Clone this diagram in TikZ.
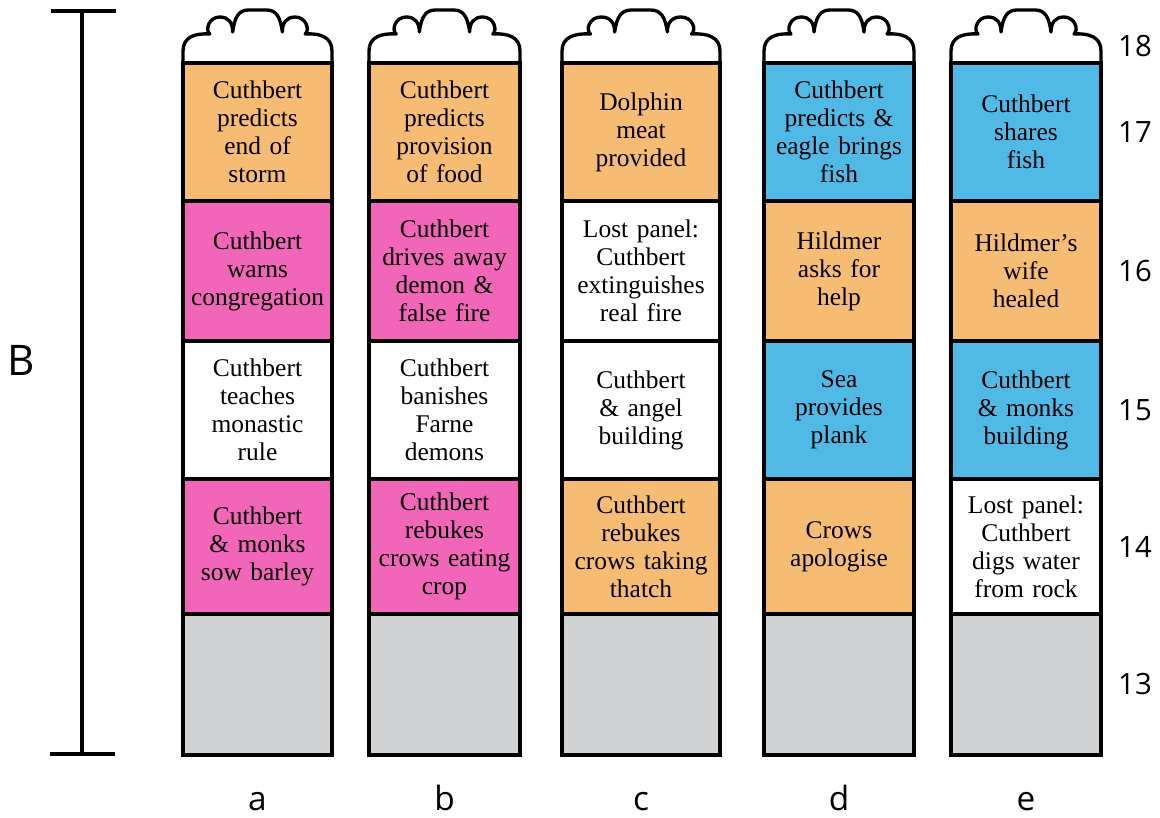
\documentclass[tikz,border=0pt]{standalone}
\usepackage{fontspec}
\setmainfont{Liberation Serif}
\newfontfamily\labelfont{Open Sans}
\usetikzlibrary{positioning}
\definecolor{orng}{RGB}{247,188,115}
\definecolor{pinkp}{RGB}{242,102,185}
\definecolor{sky}{RGB}{80,185,230}
\definecolor{stone}{RGB}{209,211,212}
\newcommand{\panelfont}{\fontsize{14.5}{15.9}\selectfont}

\begin{document}
\begin{tikzpicture}[x=0.02cm,y=-0.02cm,
 panel/.style={draw,line width=1.9pt,inner sep=0pt,align=center,font=\panelfont},
 crown/.style={draw,line width=1.9pt,fill=white,line join=round},
 bar/.style={line width=1.9pt},
 num/.style={font=\labelfont\fontsize{16.7}{20}\selectfont,inner sep=0pt},
 lbl/.style={font=\labelfont\fontsize{19}{22}\selectfont,inner sep=0pt,anchor=base},
 cola/.style={text width=2.98cm},colb/.style={text width=3.02cm},colc/.style={text width=3.16cm},
 cold/.style={text width=3.0cm},cole/.style={text width=3.0cm},
 reg17/.style={minimum height=2.76cm},reg16/.style={minimum height=2.8cm},
 reg15/.style={minimum height=2.76cm},reg14/.style={minimum height=2.7cm},
 reg13/.style={minimum height=2.82cm}]
\useasboundingbox (0,0) rectangle (1160,818);
% crowns on top of the columns
\foreach \l/\w in {183/149,369/151,562/158,764/150,951/150}{
 \begin{scope}[shift={(\l,63)},xscale=\w/150]
 \draw[crown] (0,0) -- (0,-12) .. controls (0,-26) and (12,-30) .. (27,-29)
  .. controls (22,-33) and (26,-46) .. (37,-46) .. controls (46,-46) and (50,-40) .. (50,-31)
  .. controls (52,-46) and (56,-53) .. (66,-53) -- (84,-53) .. controls (94,-53) and (98,-46) .. (100,-31)
  .. controls (100,-40) and (104,-46) .. (113,-46) .. controls (124,-46) and (128,-33) .. (123,-29)
  .. controls (138,-30) and (150,-26) .. (150,-12) -- (150,0);
 \end{scope}}
% grey base panels and column letters
\foreach \c/\xc/\cs in {a/257.5/cola,b/444.5/colb,c/641/colc,d/839/cold,e/1026/cole}{
 \node[panel,\cs,reg13,fill=stone] (\c5) at (\xc,684.5) {};
 \node[lbl] (l\c) at (\xc,810) {\c};}
% column a
\node[panel,cola,reg17,fill=orng] (a1) at (257.5,132) {Cuthbert\\predicts\\end of\\storm};
\node[panel,cola,reg16,fill=pinkp] (a2) at (257.5,271) {Cuthbert\\warns\\congregation};
\node[panel,cola,reg15,fill=white] (a3) at (257.5,410) {Cuthbert\\teaches\\monastic\\rule};
\node[panel,cola,reg14,fill=pinkp] (a4) at (257.5,546.5) {Cuthbert\\\& monks\\sow barley};
% column b
\node[panel,colb,reg17,fill=orng] (b1) at (444.5,132) {Cuthbert\\predicts\\provision\\of food};
\node[panel,colb,reg16,fill=pinkp] (b2) at (444.5,271) {Cuthbert\\drives away\\demon \&\\false fire};
\node[panel,colb,reg15,fill=white] (b3) at (444.5,410) {Cuthbert\\banishes\\Farne\\demons};
\node[panel,colb,reg14,fill=pinkp] (b4) at (444.5,546.5) {Cuthbert\\rebukes\\crows eating\\crop};
% column c
\node[panel,colc,reg17,fill=orng] (c1) at (641,132) {Dolphin\\meat\\provided};
\node[panel,colc,reg16,fill=white] (c2) at (641,271) {Lost panel:\\Cuthbert\\extinguishes\\real fire};
\node[panel,colc,reg15,fill=white] (c3) at (641,410) {Cuthbert\\\& angel\\building};
\node[panel,colc,reg14,fill=orng] (c4) at (641,546.5) {Cuthbert\\rebukes\\crows taking\\thatch};
% column d
\node[panel,cold,reg17,fill=sky] (d1) at (839,132) {Cuthbert\\predicts \&\\eagle brings\\fish};
\node[panel,cold,reg16,fill=orng] (d2) at (839,271) {Hildmer\\asks for\\help};
\node[panel,cold,reg15,fill=sky] (d3) at (839,410) {Sea\\provides\\plank};
\node[panel,cold,reg14,fill=orng] (d4) at (839,546.5) {Crows\\apologise};
% column e
\node[panel,cole,reg17,fill=sky] (e1) at (1026,132) {Cuthbert\\shares\\fish};
\node[panel,cole,reg16,fill=orng] (e2) at (1026,271) {Hildmer’s\\wife\\healed};
\node[panel,cole,reg15,fill=sky] (e3) at (1026,410) {Cuthbert\\\& monks\\building};
\node[panel,cole,reg14,fill=white] (e4) at (1026,546.5) {Lost panel:\\Cuthbert\\digs water\\from rock};
% register numbers
\node[num] (n18) at (1135,46) {18};
\node[num] (n17) at (1135,132) {17};
\node[num] (n16) at (1135,271) {16};
\node[num] (n15) at (1135,410) {15};
\node[num] (n14) at (1135,546.5) {14};
\node[num] (n13) at (1135,684.5) {13};
% scale bar
\draw[bar] (51,11) -- (116,11);
\draw[bar] (82,11) -- (82,754);
\draw[bar] (50,754) -- (115,754);
\node[font=\labelfont\fontsize{24}{28}\selectfont,inner sep=0pt] (win) at (21.5,360) {B};
\end{tikzpicture}
\end{document}
